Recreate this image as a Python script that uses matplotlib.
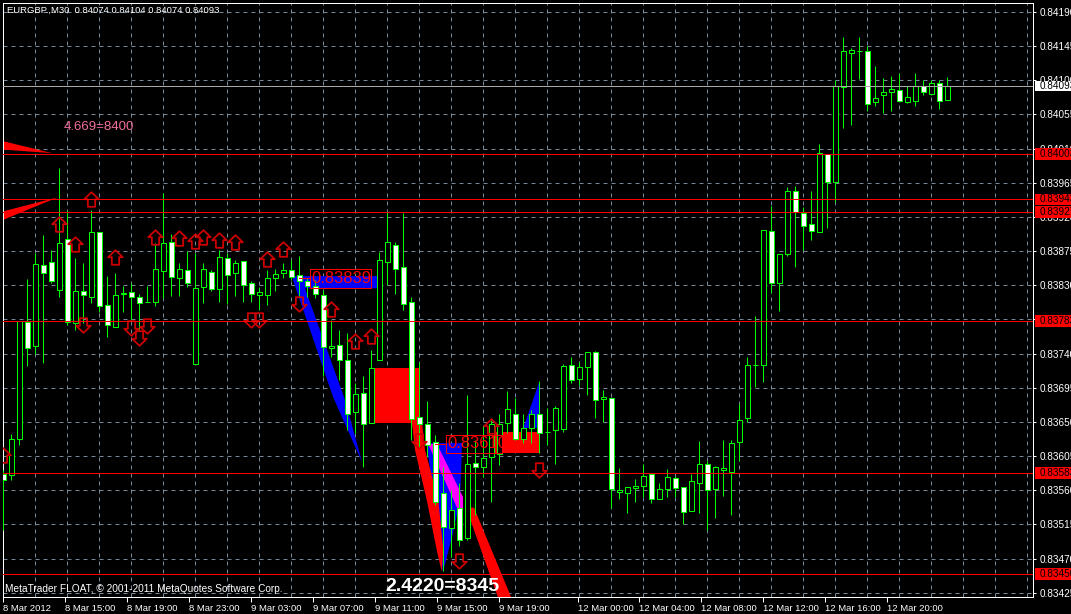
import numpy as np
import matplotlib
matplotlib.use("Agg")
import matplotlib.pyplot as plt
from matplotlib.path import Path
from matplotlib.patches import Rectangle, Polygon

plt.rcParams['font.family'] = ['Liberation Sans', 'DejaVu Sans']

# ---------------- data ----------------
title_text = "EURGBP.,M30  0.84074 0.84104 0.84074 0.84093"
copyright_text = "MetaTrader FLOAT, \u00a9 2001-2011 MetaQuotes Software Corp."

opens = [0.83581, 0.83580, 0.83627, 0.83781, 0.83750, 0.83856, 0.83860, 0.83824, 0.83891, 0.83780,
         0.83822, 0.83815, 0.83900, 0.83804, 0.83775, 0.83818, 0.83821, 0.83814, 0.83808, 0.83808,
         0.83849, 0.83887, 0.83839, 0.83850, 0.83726, 0.83828, 0.83848, 0.83825, 0.83866, 0.83846,
         0.83862, 0.83833, 0.83817, 0.83817, 0.83839, 0.83846, 0.83850, 0.83843, 0.83836, 0.83829,
         0.83817, 0.83747, 0.83751, 0.83732, 0.83663, 0.83688, 0.83648, 0.83732, 0.83861, 0.83883,
         0.83854, 0.83808, 0.83656, 0.83647, 0.83623, 0.83556, 0.83510, 0.83536, 0.83497, 0.83596,
         0.83591, 0.83604, 0.83608, 0.83649, 0.83661, 0.83628, 0.83642, 0.83660, 0.83637, 0.83639,
         0.83640, 0.83725, 0.83706, 0.83722, 0.83742, 0.83680, 0.83682, 0.83557, 0.83556, 0.83563,
         0.83566, 0.83581, 0.83549, 0.83562, 0.83576, 0.83564, 0.83532, 0.83570, 0.83595, 0.83561,
         0.83586, 0.83584, 0.83624, 0.83655, 0.83725, 0.83725, 0.83901, 0.83833, 0.83871, 0.83954,
         0.83925, 0.83911, 0.83900, 0.84003, 0.83966, 0.84091, 0.84136, 0.84138, 0.84139, 0.84072,
         0.84080, 0.84084, 0.84087, 0.84072, 0.84073, 0.84092, 0.84082, 0.84096, 0.84074]
highs = [0.83587, 0.83634, 0.83783, 0.83838, 0.83873, 0.83896, 0.83876, 0.83985, 0.83929, 0.83866,
         0.83859, 0.83929, 0.83900, 0.83842, 0.83846, 0.83829, 0.83833, 0.83819, 0.83829, 0.83885,
         0.83951, 0.83898, 0.83859, 0.83875, 0.83872, 0.83859, 0.83850, 0.83877, 0.83872, 0.83863,
         0.83862, 0.83836, 0.83828, 0.83850, 0.83852, 0.83859, 0.83863, 0.83868, 0.83839, 0.83837,
         0.83824, 0.83784, 0.83771, 0.83767, 0.83701, 0.83710, 0.83745, 0.83874, 0.83927, 0.83887,
         0.83925, 0.83815, 0.83729, 0.83677, 0.83633, 0.83591, 0.83560, 0.83569, 0.83685, 0.83626,
         0.83644, 0.83652, 0.83661, 0.83691, 0.83681, 0.83660, 0.83666, 0.83704, 0.83668, 0.83671,
         0.83726, 0.83735, 0.83729, 0.83742, 0.83744, 0.83692, 0.83682, 0.83589, 0.83564, 0.83575,
         0.83595, 0.83581, 0.83569, 0.83588, 0.83579, 0.83564, 0.83581, 0.83625, 0.83598, 0.83592,
         0.83626, 0.83626, 0.83674, 0.83736, 0.83789, 0.83903, 0.83934, 0.83871, 0.83960, 0.83961,
         0.83933, 0.83954, 0.84016, 0.84003, 0.84100, 0.84157, 0.84143, 0.84157, 0.84145, 0.84119,
         0.84103, 0.84106, 0.84109, 0.84093, 0.84110, 0.84100, 0.84101, 0.84100, 0.84104]
lows = [0.83508, 0.83573, 0.83620, 0.83723, 0.83740, 0.83727, 0.83833, 0.83815, 0.83778, 0.83771,
        0.83780, 0.83807, 0.83795, 0.83762, 0.83775, 0.83795, 0.83784, 0.83771, 0.83808, 0.83803,
        0.83813, 0.83816, 0.83816, 0.83828, 0.83726, 0.83807, 0.83823, 0.83808, 0.83805, 0.83816,
        0.83808, 0.83808, 0.83797, 0.83804, 0.83822, 0.83840, 0.83837, 0.83815, 0.83815, 0.83813,
        0.83710, 0.83736, 0.83705, 0.83639, 0.83635, 0.83591, 0.83648, 0.83732, 0.83830, 0.83819,
        0.83797, 0.83626, 0.83617, 0.83604, 0.83541, 0.83453, 0.83472, 0.83486, 0.83494, 0.83527,
        0.83578, 0.83545, 0.83593, 0.83635, 0.83626, 0.83622, 0.83622, 0.83609, 0.83620, 0.83595,
        0.83637, 0.83701, 0.83699, 0.83686, 0.83655, 0.83650, 0.83536, 0.83549, 0.83530, 0.83545,
        0.83551, 0.83543, 0.83549, 0.83551, 0.83551, 0.83515, 0.83532, 0.83530, 0.83508, 0.83524,
        0.83553, 0.83527, 0.83599, 0.83650, 0.83696, 0.83703, 0.83820, 0.83796, 0.83868, 0.83854,
        0.83876, 0.83890, 0.83900, 0.83905, 0.83939, 0.84037, 0.84041, 0.84102, 0.84059, 0.84066,
        0.84057, 0.84059, 0.84071, 0.84070, 0.84066, 0.84080, 0.84081, 0.84062, 0.84074]
closes = [0.83573, 0.83627, 0.83783, 0.83747, 0.83858, 0.83846, 0.83835, 0.83885, 0.83781, 0.83822,
          0.83817, 0.83900, 0.83803, 0.83777, 0.83817, 0.83820, 0.83815, 0.83806, 0.83808, 0.83851,
          0.83885, 0.83841, 0.83851, 0.83833, 0.83827, 0.83851, 0.83825, 0.83867, 0.83844, 0.83859,
          0.83830, 0.83819, 0.83821, 0.83840, 0.83845, 0.83850, 0.83841, 0.83835, 0.83829, 0.83818,
          0.83748, 0.83750, 0.83732, 0.83661, 0.83687, 0.83647, 0.83721, 0.83863, 0.83887, 0.83851,
          0.83805, 0.83654, 0.83647, 0.83620, 0.83545, 0.83511, 0.83534, 0.83495, 0.83594, 0.83590,
          0.83603, 0.83647, 0.83647, 0.83667, 0.83627, 0.83642, 0.83661, 0.83636, 0.83637, 0.83668,
          0.83724, 0.83705, 0.83722, 0.83742, 0.83679, 0.83683, 0.83561, 0.83560, 0.83564, 0.83566,
          0.83579, 0.83548, 0.83561, 0.83577, 0.83563, 0.83531, 0.83572, 0.83594, 0.83560, 0.83590,
          0.83589, 0.83622, 0.83653, 0.83725, 0.83725, 0.83903, 0.83833, 0.83871, 0.83954, 0.83926,
          0.83908, 0.83901, 0.84004, 0.83966, 0.84093, 0.84139, 0.84140, 0.84138, 0.84069, 0.84076,
          0.84085, 0.84088, 0.84073, 0.84078, 0.84093, 0.84084, 0.84096, 0.84073, 0.84093]

time_labels = ["8 Mar 2012", "8 Mar 15:00", "8 Mar 19:00", "8 Mar 23:00", "9 Mar 03:00",
               "9 Mar 07:00", "9 Mar 11:00", "9 Mar 15:00", "9 Mar 19:00", "12 Mar 00:00",
               "12 Mar 04:00", "12 Mar 08:00", "12 Mar 12:00", "12 Mar 16:00", "12 Mar 20:00"]
time_label_bars = [0.0, 7.7, 15.4, 23.2, 30.9, 38.7, 46.4, 54.2, 61.9, 71.8,
                   79.5, 87.2, 95.0, 102.7, 110.4]

price_ticks = [0.83425, 0.83470, 0.83515, 0.83560, 0.83605, 0.83650, 0.83695, 0.83740, 0.83785,
               0.83830, 0.83875, 0.83920, 0.83965, 0.84010, 0.84055, 0.84100, 0.84145, 0.84190]

level_prices = [0.84003, 0.83943, 0.83927, 0.83783, 0.83583, 0.83450]
last_price = 0.84093

arrow_up_bars = [0, 7, 9, 11, 14, 19, 22, 24, 25, 27, 29, 33, 35, 41, 44, 46, 61]
arrow_up_prices = [0.83606, 0.83911, 0.83884, 0.83943, 0.83867, 0.83894, 0.83892, 0.83888, 0.83894,
                   0.83890, 0.83887, 0.83865, 0.83878, 0.83799, 0.83757, 0.83763, 0.83645]
arrow_dn_bars = [10, 16, 17, 18, 31, 32, 37, 52, 57, 67]
arrow_dn_prices = [0.83777, 0.83774, 0.83761, 0.83776, 0.83784, 0.83784, 0.83805, 0.83625,
                   0.83467, 0.83586]

# indicator shapes (bar index, price)
wedge_top = [(-0.5, 0.84021), (-0.5, 0.84009), (6.1, 0.84004)]
wedge_mid = [(-0.5, 0.83926), (-0.5, 0.83914), (6.84, 0.83946)]
blue_upper = [(36.21, 0.83842), (46.71, 0.83842), (46.71, 0.83826), (37.71, 0.83826),
              (42.71, 0.83679), (44.84, 0.83597), (41.21, 0.83683), (36.21, 0.83837)]
blue_line = [(46.7, 0.83827), (46.7, 0.83755)]
blue_lower = [(52.93, 0.83622), (57.34, 0.83622), (57.09, 0.83547), (56.21, 0.83504), (54.96, 0.83452)]
magenta_band = [(53.09, 0.83621), (54.21, 0.83621), (57.46, 0.83551), (57.46, 0.83534), (56.84, 0.83534)]
blue_right = [(65.0, 0.83642), (67.0, 0.83703), (67.0, 0.83642)]
red_band_a = [(51.05, 0.836525), (51.46, 0.83613), (52.93, 0.83547), (54.18, 0.83481), (54.8, 0.834526),
              (55.0, 0.83481), (54.375, 0.83547), (52.71, 0.83613), (52.3, 0.836525)]
red_band_b = [(57.84, 0.83537), (58.84, 0.83537), (64.66, 0.83389), (62.84, 0.83389)]
red_box_1 = (46.25, 51.9, 0.83648, 0.83721)
red_box_2 = (61.05, 67.0, 0.83609, 0.83637)

label_1 = ("0.83839", 37.0, 38.3, 45.9, 0.83827, 0.83851, 0.83839)
label_2 = ("0.83610", 54.0, 55.34, 62.3, 0.83609, 0.83633, 0.83621)

text_pink = ("4.669=8400", 7.6, 0.84038)
text_white = ("2.4220=8345", 47.7, 0.834325)

# ---------------- figure ----------------
W, H = 1071, 614
fig = plt.figure(figsize=(W / 100, H / 100), dpi=100, facecolor='black')
ax = fig.add_axes([3 / W, 17 / H, 1030 / W, 594 / H])
ax.set_facecolor('black')
ax.set_xlim(-0.04, 128.71)
ax.set_ylim(0.834193, 0.842018)

PX = 0.72  # one pixel in points
FS = 6.8
FSY = 7.2
grid_col = '#778899'
ax.set_axisbelow(True)
ax.set_yticks(price_ticks)
ax.set_yticklabels([f"{p:.5f}" for p in price_ticks])
ax.yaxis.tick_right()
ax.set_xticks(time_label_bars)
ax.set_xticklabels(time_labels)
ax.set_xticks(np.arange(0, 129, 4), minor=True)
ax.grid(which='major', axis='y', color=grid_col, linestyle=(0, (4, 4)), linewidth=PX)
ax.grid(which='minor', axis='x', color=grid_col, linestyle=(0, (4, 4)), linewidth=PX)
ax.tick_params(axis='x', which='minor', length=0)
ax.tick_params(axis='x', which='major', colors='white', length=3.6, width=PX, pad=1.2, labelsize=FS)
ax.tick_params(axis='y', which='major', colors='white', length=2.5, width=PX, pad=2.6, labelsize=FSY)
for lab in ax.get_xticklabels():
    lab.set_horizontalalignment('left')
for sp in ax.spines.values():
    sp.set_color('white')
    sp.set_linewidth(PX)

# shapes behind candles
def poly(pts, color, z=1.5):
    ax.add_patch(Polygon(pts, closed=True, facecolor=color, edgecolor='none', zorder=z))

poly(wedge_top, '#FF0000')
poly(wedge_mid, '#FF0000')
for (x0, x1, y0, y1) in (red_box_1, red_box_2):
    ax.add_patch(Rectangle((x0, y0), x1 - x0, y1 - y0, facecolor='#FF0000', edgecolor='none', zorder=1.4))
poly(blue_upper, '#0000FF')
ax.plot([p[0] for p in blue_line], [p[1] for p in blue_line], color='#0000FF', lw=PX, zorder=1.5)
poly(blue_lower, '#0000FF')
poly(magenta_band, '#FF00FF', 1.6)
poly(blue_right, '#0000FF')
poly(red_band_a, '#FF0000', 1.7)
poly(red_band_b, '#FF0000', 1.7)

# candles
o = np.array(opens); h = np.array(highs); l = np.array(lows); c = np.array(closes)
xb = np.arange(len(o))
ax.vlines(xb, l, h, color='#00FF00', lw=PX, zorder=3)
bull = c > o
body_bottom = np.minimum(o, c)
body_h = np.abs(c - o)
face = np.where(bull, 'black', 'white')
ax.bar(xb, body_h, bottom=body_bottom, width=0.55, color=list(face), edgecolor='#00FF00',
       linewidth=PX, zorder=4)

# arrows
up_verts = [(-0.25, -0.5), (0.25, -0.5), (0.25, 0.02), (0.5, 0.02), (0.0, 0.5),
            (-0.5, 0.02), (-0.25, 0.02), (-0.25, -0.5)]
up_path = Path(up_verts, closed=True)
dn_path = Path([(vx, -vy) for vx, vy in up_verts], closed=True)
ax.plot(arrow_up_bars, arrow_up_prices, ls='none', marker=up_path, ms=10.5, mfc='none',
        mec='#CC0000', mew=1.3, zorder=5)
ax.plot(arrow_dn_bars, arrow_dn_prices, ls='none', marker=dn_path, ms=10.5, mfc='none',
        mec='#CC0000', mew=1.3, zorder=5)

# labelled boxes
for (txt, xc, x0, x1, y0, y1, yt) in (label_1, label_2):
    ax.add_patch(Rectangle((x0, y0), x1 - x0, y1 - y0, facecolor='none', edgecolor='#FF0000',
                           linewidth=PX, zorder=5))
    ax.plot([xc, x0], [yt, yt], color='#FF0000', lw=PX, zorder=5)
    ax.text(x0 + 0.15, yt, txt, color='#FF0000', fontsize=12, ha='left', va='center', zorder=5)

# horizontal levels
for p in level_prices:
    ax.axhline(p, color='#FF0000', lw=PX, zorder=6)
ax.axhline(last_price, color='#A8A8A8', lw=PX, zorder=6)

# right side price boxes
ytr = ax.get_yaxis_transform()
for p in level_prices:
    ax.add_patch(Rectangle((1.0019, p - 0.000078), 0.06, 0.000156, transform=ytr, clip_on=False,
                           facecolor='#FF0000', edgecolor='none', zorder=10))
    ax.text(1.0062, p, f"{p:.5f}", transform=ytr, color='black', fontsize=FSY, ha='left',
            va='center', clip_on=False, zorder=11)
ax.add_patch(Rectangle((1.0019, last_price - 0.000066), 0.06, 0.000132, transform=ytr, clip_on=False,
                       facecolor='white', edgecolor='none', zorder=10))
ax.text(1.0062, last_price, f"{last_price:.5f}", transform=ytr, color='black', fontsize=FSY,
        ha='left', va='center', clip_on=False, zorder=11)

# texts
ax.text(0.0039, 0.988, title_text, transform=ax.transAxes, color='white', fontsize=FS,
        ha='left', va='center', zorder=12)
ax.text(0.002, 0.0135, copyright_text, transform=ax.transAxes, color='white', fontsize=7.3,
        ha='left', va='center', zorder=12)
ax.text(text_pink[1], text_pink[2], text_pink[0], color='#F0709E', fontsize=9.5,
        ha='left', va='center', zorder=12)
ax.text(text_white[1], text_white[2], text_white[0], color='white', fontsize=14,
        fontweight='bold', ha='left', va='center', zorder=12)

fig.savefig('out.png', dpi=100, facecolor='black')
